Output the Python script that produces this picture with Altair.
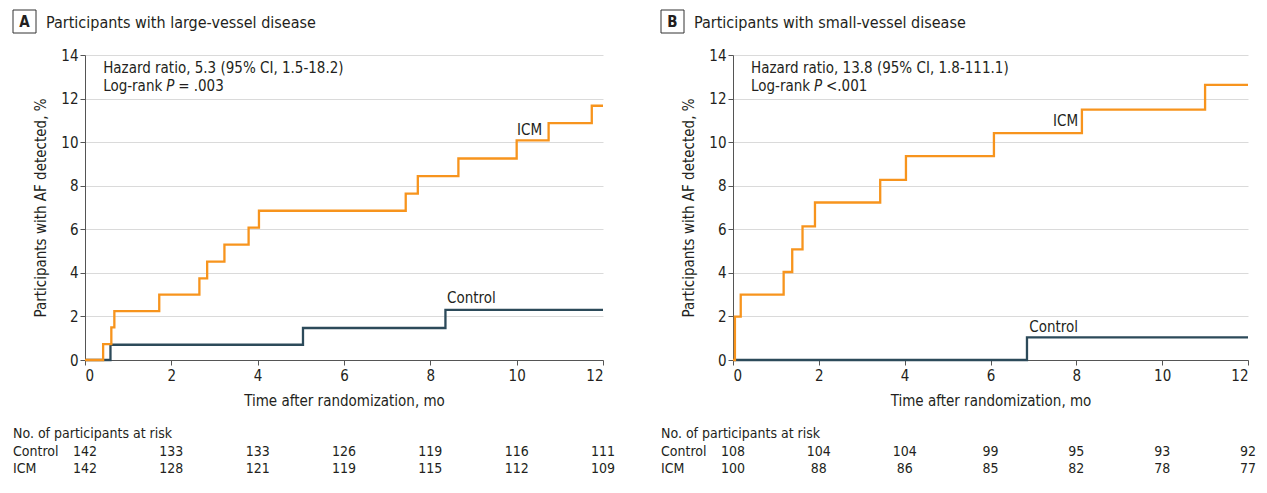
import altair as alt
import pandas as pd

FONT = "Liberation Sans Narrow, DejaVu Sans Condensed, Liberation Sans, sans-serif"
ORANGE = "#F7941D"
TEAL = "#2C4A5A"
TXT = "#231F20"
AXC = "#555555"

# ---------------- data ----------------
XTICKS = [0, 2, 4, 6, 8, 10, 12]
YTICKS = [0, 2, 4, 6, 8, 10, 12, 14]

# Panel A: large-vessel disease
A_ICM_T = [0, 0.42, 0.61, 0.68, 1.72, 2.65, 2.83, 3.23, 3.79, 4.03, 7.43, 7.71, 8.65, 10.0, 10.74, 11.74, 12]
A_ICM_Y = [0, 0.73, 1.50, 2.24, 3.00, 3.75, 4.52, 5.30, 6.08, 6.85, 7.64, 8.44, 9.25, 10.08, 10.87, 11.67, 11.67]
A_CTL_T = [0, 0.59, 5.05, 8.35, 12]
A_CTL_Y = [0, 0.70, 1.47, 2.30, 2.30]
A_RISK_CTL = [142, 133, 133, 126, 119, 116, 111]
A_RISK_ICM = [142, 128, 121, 119, 115, 112, 109]

# Panel B: small-vessel disease
B_ICM_T = [0, 0.045, 0.18, 1.18, 1.38, 1.62, 1.91, 3.43, 4.03, 6.08, 8.13, 11.0, 12]
B_ICM_Y = [0, 1.99, 3.00, 4.04, 5.08, 6.13, 7.23, 8.27, 9.36, 10.41, 11.49, 12.63, 12.63]
B_CTL_T = [0, 6.85, 12]
B_CTL_Y = [0, 1.04, 1.04]
B_RISK_CTL = [108, 104, 104, 99, 95, 93, 92]
B_RISK_ICM = [100, 88, 86, 85, 82, 78, 77]

ONE = pd.DataFrame({"k": [0]})


def make_panel(letter, title, icm_t, icm_y, ctl_t, ctl_y, hr_text, p_rest,
               icm_lab, ctl_lab, risk_ctl, risk_icm, width, height=305):
    X = alt.X("t:Q", scale=alt.Scale(domain=[0, 12], nice=False),
              axis=alt.Axis(values=XTICKS, title="Time after randomization, mo",
                            grid=False, tickSize=5, labelPadding=3, titlePadding=10,
                            domainColor=AXC, tickColor=AXC, labelFontSize=15,
                            titleFontSize=15, titleFontWeight="normal",
                            labelColor=TXT, titleColor=TXT, labelFont=FONT, titleFont=FONT))
    Y = alt.Y("v:Q", scale=alt.Scale(domain=[0, 14], nice=False),
              axis=alt.Axis(values=YTICKS, title="Participants with AF detected, %",
                            grid=True, gridColor="#dadada", tickSize=5, labelPadding=2,
                            titlePadding=12, domainColor=AXC, tickColor=AXC,
                            labelFontSize=15, titleFontSize=15, titleFontWeight="normal",
                            labelColor=TXT, titleColor=TXT, labelFont=FONT, titleFont=FONT))

    ctl = pd.DataFrame({"t": ctl_t, "v": ctl_y})
    icm = pd.DataFrame({"t": icm_t, "v": icm_y})

    ctl_line = alt.Chart(ctl).mark_line(interpolate="step-after", color=TEAL,
                                        strokeWidth=2.3).encode(x=X, y=Y)
    icm_line = alt.Chart(icm).mark_line(interpolate="step-after", color=ORANGE,
                                        strokeWidth=2.3).encode(x=X, y=Y)

    labels = pd.DataFrame({"t": [icm_lab[0], ctl_lab[0]], "v": [icm_lab[1], ctl_lab[1]],
                           "lab": ["ICM", "Control"]})
    lab_txt = alt.Chart(labels).mark_text(font=FONT, fontSize=15, color=TXT,
                                          align="center", baseline="middle").encode(
        x=X, y=Y, text="lab:N")

    ann1 = pd.DataFrame({"t": [0.42], "v": [13.4]})
    ann2 = pd.DataFrame({"t": [0.42], "v": [12.57]})
    hr = alt.Chart(ann1).mark_text(font=FONT, fontSize=15, color=TXT, align="left",
                                   baseline="middle", text=hr_text).encode(x=X, y=Y)
    lr = alt.Chart(ann2).mark_text(font=FONT, fontSize=15, color=TXT, align="left",
                                   baseline="middle", text="Log-rank").encode(x=X, y=Y)
    pp = alt.Chart(ann2).mark_text(font=FONT, fontSize=15, color=TXT, align="left",
                                   baseline="middle", text="P", fontStyle="italic",
                                   dx=63).encode(x=X, y=Y)
    pr = alt.Chart(ann2).mark_text(font=FONT, fontSize=15, color=TXT, align="left",
                                   baseline="middle", text=p_rest, dx=75).encode(x=X, y=Y)

    risk = pd.DataFrame({"t": XTICKS, "ctl": risk_ctl, "icm": risk_icm})
    r_ctl = alt.Chart(risk).mark_text(font=FONT, fontSize=14, color=TXT, align="center",
                                      baseline="middle").encode(
        x=X, y=alt.value(397), text="ctl:Q")
    r_icm = alt.Chart(risk).mark_text(font=FONT, fontSize=14, color=TXT, align="center",
                                      baseline="middle").encode(
        x=X, y=alt.value(414), text="icm:Q")
    r_head = alt.Chart(ONE).mark_text(font=FONT, fontSize=14, color=TXT, align="left",
                                      baseline="middle", text="No. of participants at risk").encode(
        x=alt.value(-72), y=alt.value(379))
    r_l1 = alt.Chart(ONE).mark_text(font=FONT, fontSize=14, color=TXT, align="left",
                                    baseline="middle", text="Control").encode(
        x=alt.value(-72), y=alt.value(397))
    r_l2 = alt.Chart(ONE).mark_text(font=FONT, fontSize=14, color=TXT, align="left",
                                    baseline="middle", text="ICM").encode(
        x=alt.value(-72), y=alt.value(414))

    box = alt.Chart(ONE).mark_rect(fill="white", stroke="#333333", strokeWidth=1).encode(
        x=alt.value(-72), x2=alt.value(-49), y=alt.value(-45), y2=alt.value(-22))
    box_txt = alt.Chart(ONE).mark_text(font=FONT, fontSize=15, fontWeight="bold", color=TXT,
                                       align="center", baseline="middle", text=letter).encode(
        x=alt.value(-60.5), y=alt.value(-33))
    ttl = alt.Chart(ONE).mark_text(font=FONT, fontSize=16, color=TXT, align="left",
                                   baseline="alphabetic", text=title).encode(
        x=alt.value(-39), y=alt.value(-27))

    return alt.layer(ctl_line, icm_line, lab_txt, hr, lr, pp, pr,
                     r_ctl, r_icm, r_head, r_l1, r_l2, box, box_txt, ttl).properties(
        width=width, height=height)


pa = make_panel("A", "Participants with large-vessel disease",
                A_ICM_T, A_ICM_Y, A_CTL_T, A_CTL_Y,
                "Hazard ratio, 5.3 (95% CI, 1.5-18.2)", "= .003",
                (10.3, 10.58), (8.95, 2.83), A_RISK_CTL, A_RISK_ICM, 518)
pb = make_panel("B", "Participants with small-vessel disease",
                B_ICM_T, B_ICM_Y, B_CTL_T, B_CTL_Y,
                "Hazard ratio, 13.8 (95% CI, 1.8-111.1)", "<.001",
                (7.75, 10.95), (7.47, 1.50), B_RISK_CTL, B_RISK_ICM, 515)

chart = alt.hconcat(pa, pb, spacing=130, bounds="flush").properties(
    padding={"left": 4, "top": 1, "right": 0, "bottom": 0}
).configure(font=FONT).configure_view(stroke=None)

chart.save("out.html", embed_options={"renderer": "svg", "actions": False})
